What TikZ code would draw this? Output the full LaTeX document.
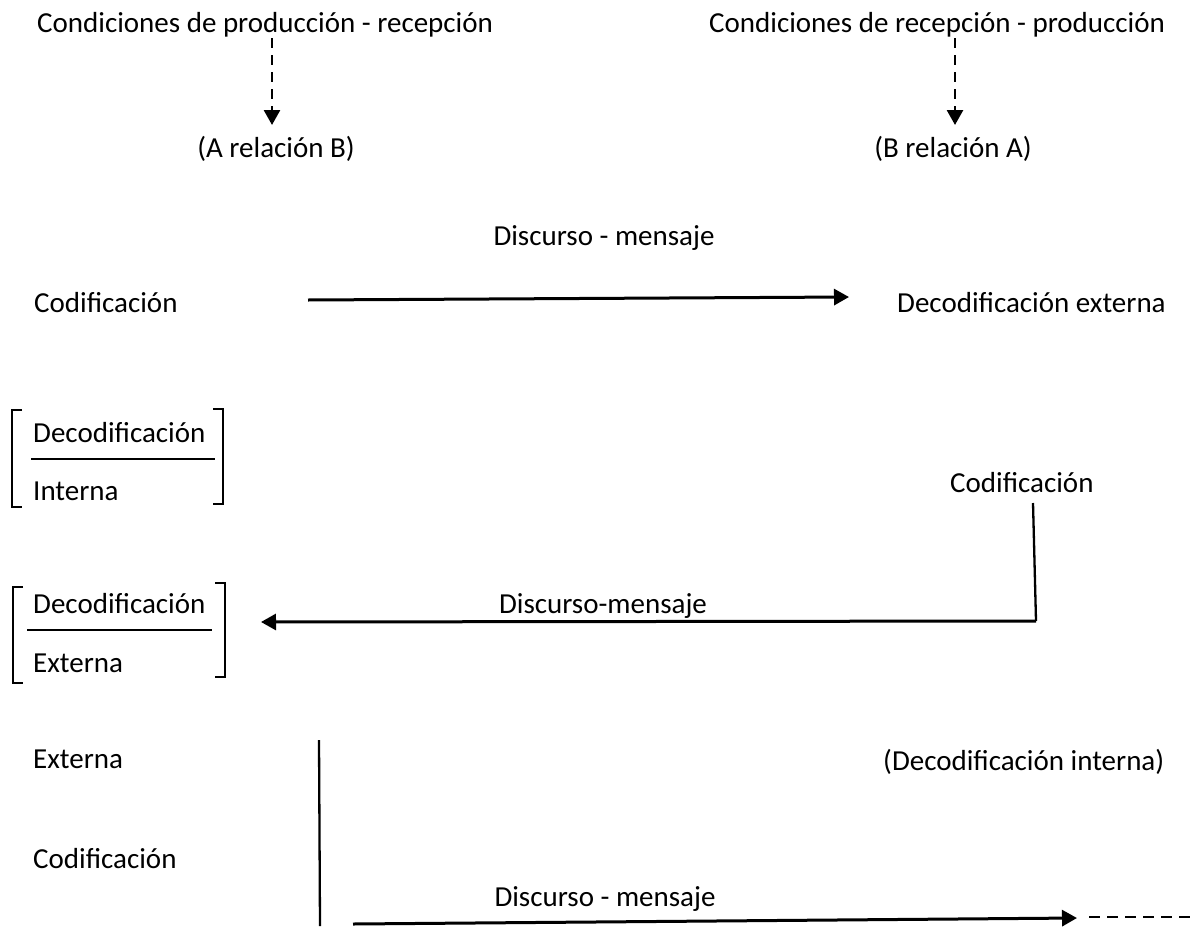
\documentclass[tikz,border=0pt]{standalone}
\usepackage{fontspec}
\setmainfont{Carlito}
\usetikzlibrary{arrows.meta}
\begin{document}
\begin{tikzpicture}[x=1pt,y=-1pt,
  txt/.style={inner sep=0pt, font=\fontsize{29}{35}\selectfont},
  tipstyle/.style={-{Triangle[length=15pt,width=16pt]}},
  harrow/.style={line width=3pt, tipstyle},
  dasharrow/.style={line width=2.7pt, dash pattern=on 10pt off 7pt, tipstyle},
  dashline/.style={line width=2.7pt, dash pattern=on 11pt off 7pt},
  vline/.style={line width=2.3pt},
  bracketline/.style={line width=2.3pt},
  fracline/.style={line width=2.5pt}]
\useasboundingbox (0,0) rectangle (1193,926);

% top row
\node[txt,anchor=base west] (cpr) at (37,32) {Condiciones de producción - recepción};
\node[txt,anchor=base west] (crp) at (709,32) {Condiciones de recepción - producción};
\node[txt,anchor=base] (ab) at (276,157) {(A relación B)};
\node[txt,anchor=base] (ba) at (953,157) {(B relación A)};
\coordinate (d1a) at (272,38); \coordinate (d1b) at (272,125);
\coordinate (d2a) at (955,38); \coordinate (d2b) at (955,125);
\draw[dasharrow] (d1a) -- (d1b);
\draw[dasharrow] (d2a) -- (d2b);

% second row
\node[txt,anchor=base] (dm1) at (604,245) {Discurso - mensaje};
\node[txt,anchor=base west] (cod1) at (34,312) {Codificación};
\node[txt,anchor=base west] (decext) at (897,312) {Decodificación externa};
\coordinate (a1s) at (308,300); \coordinate (a1e) at (849,297);
\draw[harrow] (a1s) -- (a1e);

% bracket 1
\node[txt,anchor=base west] (bd1) at (33,442) {Decodificación};
\node[txt,anchor=base west] (bi1) at (33,500) {Interna};
\draw[fracline] (31,459) -- (215,459);
\draw[bracketline] (22,410) -- (12,410) -- (12,507) -- (22,507);
\draw[bracketline] (213,409) -- (223,409) -- (223,504) -- (213,504);

% right Codificacion and return arrow
\node[txt,anchor=base west] (cod2) at (950,492) {Codificación};
\coordinate (v1a) at (1033,503); \coordinate (v1b) at (1036,621);
\coordinate (a2e) at (261,622);
\draw[vline] (v1a) -- (v1b);
\draw[harrow] (v1b) -- (a2e);
\node[txt,anchor=base] (dm2) at (603,613) {Discurso-mensaje};

% bracket 2
\node[txt,anchor=base west] (bd2) at (33,613) {Decodificación};
\node[txt,anchor=base west] (be2) at (33,672) {Externa};
\draw[fracline] (27,630) -- (212,630);
\draw[bracketline] (23,587) -- (13,587) -- (13,683) -- (23,683);
\draw[bracketline] (215,583) -- (225,583) -- (225,677) -- (215,677);

% bottom
\node[txt,anchor=base west] (ext) at (33,768) {Externa};
\node[txt,anchor=base west] (decint) at (883,770) {(Decodificación interna)};
\node[txt,anchor=base west] (cod3) at (33,868) {Codificación};
\coordinate (v2a) at (319,740); \coordinate (v2b) at (320,926);
\draw[vline] (v2a) -- (v2b);
\node[txt,anchor=base] (dm3) at (605,906) {Discurso - mensaje};
\coordinate (a3s) at (353,924); \coordinate (a3e) at (1077,918);
\coordinate (dl1) at (1089,917); \coordinate (dl2) at (1193,917);
\draw[harrow] (a3s) -- (a3e);
\draw[dashline] (dl1) -- (dl2);
\end{tikzpicture}
\end{document}
